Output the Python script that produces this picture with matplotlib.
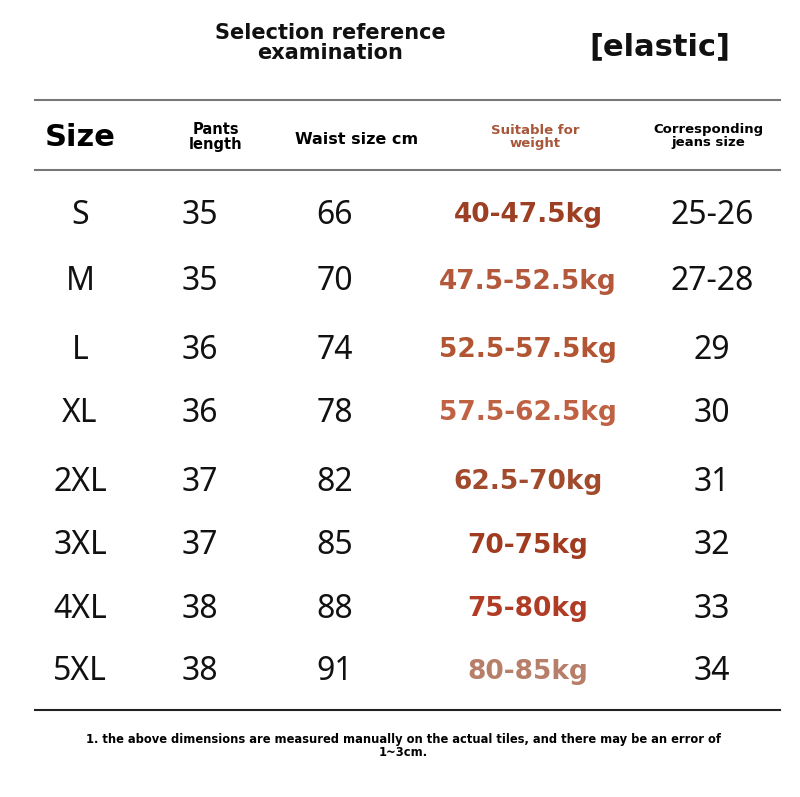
import matplotlib
matplotlib.use("Agg")
import matplotlib.pyplot as plt

# ── Table data ───────────────────────────────────────────────
SIZES = ["S", "M", "L", "XL", "2XL", "3XL", "4XL", "5XL"]
PANTS_LENGTH = ["35", "35", "36", "36", "37", "37", "38", "38"]
WAIST_CM = ["66", "70", "74", "78", "82", "85", "88", "91"]
WEIGHT = ["40-47.5kg", "47.5-52.5kg", "52.5-57.5kg", "57.5-62.5kg",
          "62.5-70kg", "70-75kg", "75-80kg", "80-85kg"]
JEANS = ["25-26", "27-28", "29", "30", "31", "32", "33", "34"]
WEIGHT_COLORS = ["#9c3f22", "#b4583c", "#b25532", "#bf6244",
                 "#a24a2c", "#a03b1f", "#b03c26", "#b77e6a"]

plt.rcParams["font.family"] = ["Noto Sans", "DejaVu Sans"]
BOLD = dict(fontweight="bold", family="DejaVu Sans")

W, H = 800, 797
fig = plt.figure(figsize=(W / 100, H / 100), dpi=100, facecolor="white")
ax = fig.add_axes([0, 0, 1, 1])
ax.set_xlim(0, W)
ax.set_ylim(H, 0)
ax.axis("off")

# Title
ax.text(330, 43, "Selection reference\nexamination", ha="center", va="center",
        fontsize=15, linespacing=1.05, color="#111", **BOLD)
ax.text(660, 47, "[elastic]", ha="center", va="center",
        fontsize=22, color="#111", **BOLD)

# Header
ax.plot([35, 780], [100, 100], color="#777", lw=1.5)
ax.plot([35, 780], [170, 170], color="#777", lw=1.5)
ax.text(80, 137, "Size", ha="center", va="center", fontsize=22, **BOLD)
ax.text(216, 137, "Pants\nlength", ha="center", va="center", fontsize=10.5,
        linespacing=0.95, **BOLD)
ax.text(357, 139, "Waist size cm", ha="center", va="center", fontsize=11.5,
        **BOLD)
ax.text(535, 137, "Suitable for\nweight", ha="center", va="center", fontsize=9.5,
        color="#a8573a", linespacing=1.0, **BOLD)
ax.text(708, 136, "Corresponding\njeans size", ha="center", va="center",
        fontsize=9.5, linespacing=1.0, **BOLD)

# Rows
row_y = [215, 282, 350, 413, 482, 546, 609, 672]
for i, y in enumerate(row_y):
    ax.text(80, y, SIZES[i], ha="center", va="center", fontsize=23, color="#111")
    ax.text(200, y, PANTS_LENGTH[i], ha="center", va="center", fontsize=23, color="#111")
    ax.text(335, y, WAIST_CM[i], ha="center", va="center", fontsize=23, color="#111")
    ax.text(528, y, WEIGHT[i], ha="center", va="center", fontsize=19,
            color=WEIGHT_COLORS[i], **BOLD)
    ax.text(712, y, JEANS[i], ha="center", va="center", fontsize=23, color="#111")

ax.plot([35, 780], [710, 710], color="#222", lw=1.5)

ax.text(403, 746, "1. the above dimensions are measured manually on the actual tiles, "
        "and there may be an error of\n1~3cm.", ha="center", va="center",
        fontsize=8.3, linespacing=0.95, **BOLD)

fig.savefig("out.png", dpi=100, facecolor="white")
